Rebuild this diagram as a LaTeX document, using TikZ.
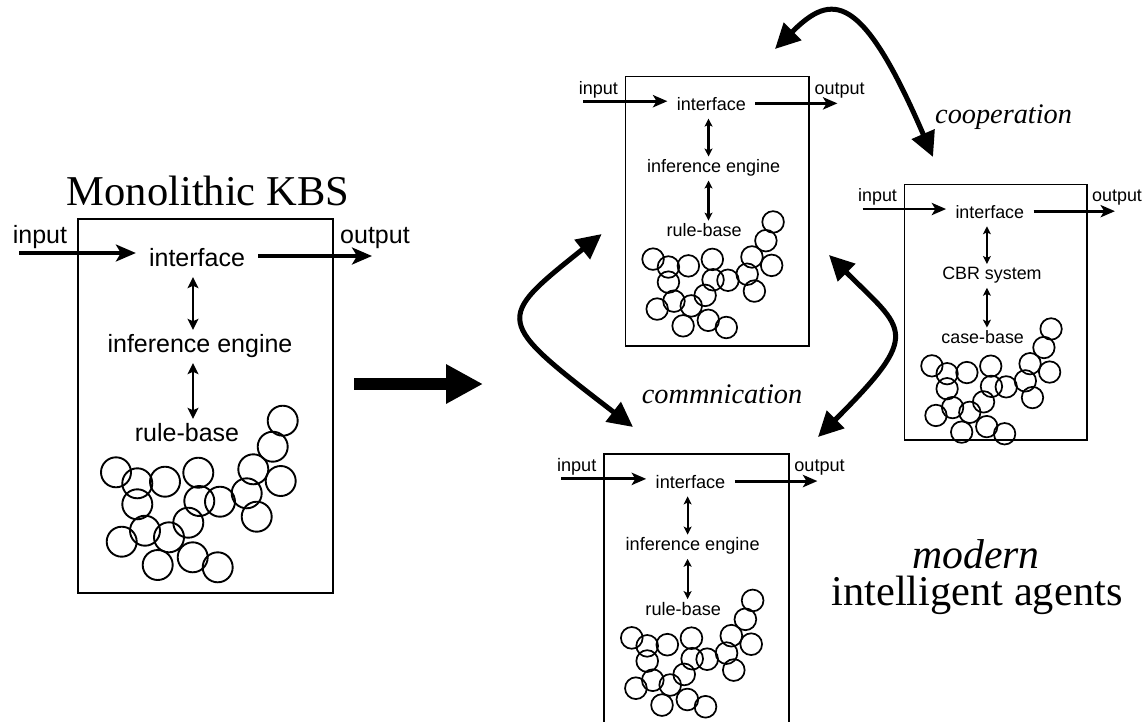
\documentclass[tikz,border=0pt]{standalone}
\usepackage{fontspec}
\setmainfont{Liberation Serif}
\setsansfont{Liberation Sans}
\usetikzlibrary{arrows.meta}
\tikzset{
  agentframe/.style={draw, inner sep=0pt},
  lbl/.style={font=\sffamily\fontsize{25}{30}\selectfont, inner xsep=13pt, inner ysep=0pt, text height=22pt, text depth=11pt, anchor=base},
  iolbl/.style={font=\sffamily\fontsize{25}{30}\selectfont, inner sep=0pt, anchor=base},
  bigtitle/.style={font=\fontsize{42.5}{50}\selectfont, inner sep=0pt, anchor=base},
  itlabel/.style={font=\itshape\fontsize{28.3}{34}\selectfont, inner sep=0pt, anchor=base west},
  curvearrow/.style={line width=5pt, {Triangle[length=25pt,width=24pt]}-{Triangle[length=25pt,width=24pt]}},
}
\newcommand{\agentbox}[8]{%
\begin{scope}[shift={(#2,#3)}, scale=#4, every node/.append style={transform shape}]
  \node[agentframe, line width=1.7pt*#8, minimum width=255pt, minimum height=#7pt, anchor=north west] (#1box) at (0,0) {};
  \node[iolbl] (#1inlbl) at (-37,25) {input};
  \node[iolbl] (#1outlbl) at (298,25) {output};
  \coordinate (#1inS) at (-58,35);
  \coordinate (#1outE) at (295,38);
  \coordinate (#1axis) at (116,0);
  \node[lbl] (#1if) at (120,48) {interface};
  \node[lbl] (#1mid) at (123,134) {#5};
  \node[lbl] (#1base) at (110,223) {#6};
  \draw[line width=3.2pt*#8, -{Stealth[length=20pt,width=17pt,inset=5pt,scale=#4]}] (#1inS) -- (#1if.west |- #1inS);
  \draw[line width=3.2pt*#8, -{Stealth[length=20pt,width=17pt,inset=5pt,scale=#4]}] (#1if.east |- #1outE) -- (#1outE);
  \draw[line width=2.3pt*#8, {Stealth[length=11pt,width=11pt,inset=2.5pt,scale=#4]}-{Stealth[length=11pt,width=11pt,inset=2.5pt,scale=#4]}] (#1if.south -| #1axis) -- (#1mid.north -| #1axis);
  \draw[line width=2.3pt*#8, {Stealth[length=11pt,width=11pt,inset=2.5pt,scale=#4]}-{Stealth[length=11pt,width=11pt,inset=2.5pt,scale=#4]}] (#1mid.south -| #1axis) -- (#1base.north -| #1axis);
  \foreach \cx/\cy in {205.7/202.7, 195.7/228.7, 176.3/251.3, 203.7/263, 169.7/275.3, 179.7/298.7,
      121.3/254.7, 88/263.7, 39/254.3, 60.3/265.3, 60.3/286.3, 122.3/283, 143/283.7, 111.3/304.7,
      68/312.7, 92/319.3, 44.7/323.7, 80.7/347, 115.7/339.3, 140.7/349.3}
    \draw[line width=1.9pt*#8] (\cx,\cy) circle[radius=15];
\end{scope}}
\begin{document}
\begin{tikzpicture}[x=1pt,y=-1pt]
\useasboundingbox (0,0) rectangle (1144,721);
\clip (0,0) rectangle (1144,721);
\fill[white] (0,0) rectangle (1144,721);

\node[bigtitle] (title) at (208,205) {Monolithic KBS};
\agentbox{L}{77}{218}{1}{inference engine}{rule-base}{374}{1}
\agentbox{T}{625}{76}{0.72}{inference engine}{rule-base}{374}{0.9}
\agentbox{C}{904}{184}{0.715}{CBR system}{case-base}{357}{0.9}
\agentbox{B}{603.5}{453.5}{0.725}{inference engine}{rule-base}{385}{0.9}

% big transition arrow
\coordinate (bigS) at (354,384);
\coordinate (bigE) at (483,384);
\draw[line width=12pt, -{Triangle[length=37pt,width=37pt]}] (bigS) -- (bigE);

% curved arrows
\coordinate (cA) at (601.7,234);
\coordinate (cB) at (633,427);
\draw[curvearrow] (cA) .. controls (494,320) and (494,320) .. (cB);
\coordinate (cC) at (829,255);
\coordinate (cD) at (818,437);
\draw[curvearrow] (cC) .. controls (905,331) and (923,332) .. (cD);
\coordinate (cE) at (775,49);
\coordinate (cF) at (933,157);
\draw[curvearrow] (cE) .. controls (832,-8) and (862,-8) .. (cF);

\node[itlabel] (coop) at (935,123) {cooperation};
\node[itlabel] (comm) at (641.7,403.3) {commnication};
\node[bigtitle, font=\itshape\fontsize{41.7}{50}\selectfont, text depth=0pt] (modern) at (976,568) {modern};
\node[bigtitle, font=\fontsize{42.4}{50}\selectfont, text height=26pt] (agents) at (977,605) {intelligent agents};
\end{tikzpicture}
\end{document}
